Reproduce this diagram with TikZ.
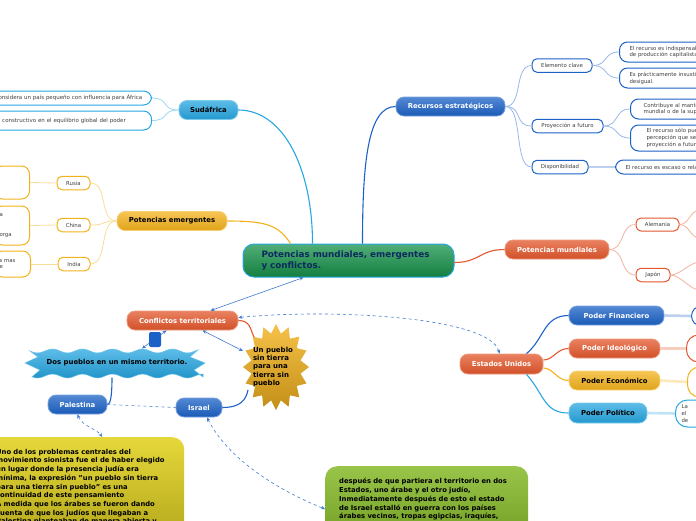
\documentclass[tikz,border=0pt]{standalone}
\usepackage{fontspec}
\setmainfont{DejaVu Sans}
\usetikzlibrary{arrows.meta,calc}
\definecolor{dblue}{HTML}{1C62C6}
\definecolor{lblue}{HTML}{27A6E0}
\definecolor{rorange}{HTML}{E3572C}
\definecolor{gold}{HTML}{F3B21C}
\definecolor{mgreen}{HTML}{17944B}
\definecolor{navy}{HTML}{0D2A5E}
\definecolor{lemon}{HTML}{E2D324}
\definecolor{olive}{HTML}{86BA2A}
\tikzset{
  core/.style={rounded corners=11pt, draw=lblue, line width=1pt, top color=mgreen!75!white, bottom color=mgreen!85!black, minimum width=211pt, minimum height=33pt, text width=174pt, align=left, inner sep=0pt, text=navy, font=\fontsize{8.8}{11.5}\selectfont\bfseries},
  branch/.style={rounded corners=8pt, draw=#1!60!white, line width=0.8pt, top color=#1!75!white, bottom color=#1!92!black, minimum height=19pt, inner sep=0pt, text=white, font=\fontsize{6.85}{8}\selectfont\bfseries},
  sub/.style={rounded corners=5pt, draw=#1, line width=1pt, fill=white, minimum height=13.5pt, inner sep=0pt, text=black!75, font=\fontsize{5.4}{6.8}\selectfont},
  leaf/.style={sub=#1, rounded corners=8pt, align=left, inner xsep=10pt},
  twig/.style={draw=#1!45!white, line width=0.8pt},
  stem/.style={draw=#1!30!white, line width=2.6pt},
  link/.style={draw=#1, line width=1.1pt},
  dual/.style={draw=dblue!85, line width=0.6pt, <->, >={Stealth[length=4pt,width=3.5pt]}},
  note/.style={rounded corners=12pt, inner ysep=8pt, align=left, text=black, font=\fontsize{6.8}{8.7}\selectfont\bfseries}
}
\begin{document}
\begin{tikzpicture}[x=1pt,y=-1pt]
\useasboundingbox (0,0) rectangle (696,520);

\node[core] (main) at (348.5,260.5) {Potencias mundiales, emergentes\\y conflictos.};

\node[branch=lblue, text=black, minimum width=59pt] (sud) at (208.5,110) {Sudáfrica};
\node[leaf=lblue, anchor=east, minimum height=14pt, text width=150pt, inner xsep=6pt, font=\fontsize{5.5}{6.8}\selectfont] (sudA) at (152,98) {considera un país pequeño con influencia para África};
\node[leaf=lblue, anchor=east, minimum height=19pt, text width=150pt, inner xsep=6pt, font=\fontsize{5.5}{6.8}\selectfont] (sudB) at (152,120.5) {el constructivo en el equilibrio global del poder};
\draw[link=lblue] (sud.east) .. controls +(45,0) and +(0,-75) .. ([xshift=-36pt]main.north);
\draw[twig=lblue] (sud.west) .. controls +(-18,0) and +(18,0) .. (sudA.east);
\draw[twig=lblue] (sud.west) .. controls +(-18,0) and +(18,0) .. (sudB.east);

\node[branch=gold, text=black, minimum width=110pt] (emerg) at (172,221) {Potencias emergentes};
\node[sub=gold, minimum width=33pt] (rusia) at (73.5,183) {Rusia};
\node[sub=gold, minimum width=33pt] (china) at (73.5,225) {China};
\node[sub=gold, minimum width=32pt] (india) at (74,264) {India};
\node[leaf=gold, anchor=east, minimum height=33pt, text width=25pt, inner xsep=5pt] (rusiaL) at (30,182.5) {};
\node[leaf=gold, anchor=east, minimum height=39pt, text width=25pt, inner xsep=5pt] (chinaL) at (30,225.5) {a\\[13.5pt]orga};
\node[leaf=gold, anchor=east, minimum height=26pt, text width=26pt, inner xsep=5pt] (indiaL) at (31,264) {s mas\\e};
\draw[link=gold] (emerg.east) .. controls +(40,0) and +(-12,-18) .. ([xshift=-58pt]main.north);
\foreach \c in {rusia,china,india}{
  \draw[twig=gold] (emerg.west) .. controls +(-18,0) and +(18,0) .. (\c.east);
  \draw[twig=gold] (\c.west) -- (\c L.east);
}

\node[branch=dblue, minimum width=109pt] (recur) at (450.5,106.5) {Recursos estratégicos};
\node[sub=dblue, minimum width=60pt] (elem) at (562,65.5) {Elemento clave};
\node[sub=dblue, minimum width=71pt] (proy) at (567.5,126) {Proyección a futuro};
\node[sub=dblue, minimum width=56pt] (disp) at (560,167) {Disponibilidad};
\node[leaf=dblue, anchor=west, minimum height=20pt, text width=110pt] (elemA) at (619,52) {El recurso es indispensable\\de producción capitalista};
\node[leaf=dblue, anchor=west, minimum height=20pt, text width=110pt] (elemB) at (619,78) {Es prácticamente insustituible\\desigual.};
\node[leaf=dblue, anchor=west, minimum height=20pt, text width=110pt, inner xsep=13pt] (proyA) at (630,109) {Contribuye al mantenimiento\\mundial o de la superpotencia};
\node[leaf=dblue, anchor=west, minimum height=26pt, text width=110pt, inner xsep=16pt] (proyB) at (630,138) {El recurso sólo puede\\percepción que se tiene\\proyección a futuro};
\node[leaf=dblue, anchor=west, minimum height=14pt, text width=110pt] (dispA) at (615,167) {El recurso es escaso o relativo};
\draw[link=dblue] (recur.west) .. controls +(-28,0) and +(0,-80) .. ([xshift=14pt]main.north);
\foreach \c in {elem,proy,disp}
  \draw[twig=dblue] (recur.east) .. controls +(18,0) and +(-18,0) .. (\c.west);
\draw[twig=dblue] (elem.east) .. controls +(16,0) and +(-16,0) .. (elemA.west);
\draw[twig=dblue] (elem.east) .. controls +(16,0) and +(-16,0) .. (elemB.west);
\draw[twig=dblue] (proy.east) .. controls +(16,0) and +(-16,0) .. (proyA.west);
\draw[twig=dblue] (proy.east) .. controls +(16,0) and +(-16,0) .. (proyB.west);
\draw[stem=dblue] (disp.east) -- (dispA.west);

\node[branch=rorange, minimum width=104pt] (pmund) at (557,249.5) {Potencias mundiales};
\node[sub=rorange, minimum width=43pt, minimum height=13pt] (alem) at (657.5,224.5) {Alemania};
\node[sub=rorange, minimum width=34pt] (japon) at (653,275) {Japón};
\coordinate (alemU) at (700,210);
\coordinate (alemD) at (700,238);
\coordinate (japonU) at (700,262);
\coordinate (japonD) at (700,290);
\draw[link=rorange] ([yshift=-2pt]main.east) .. controls +(25,0) and +(-25,0) .. (pmund.west);
\foreach \c in {alem,japon}{
  \draw[twig=rorange] (pmund.east) .. controls +(16,0) and +(-16,0) .. (\c.west);
  \draw[twig=rorange] (\c.east) .. controls +(10,0) and +(-10,0) .. (\c U);
  \draw[twig=rorange] (\c.east) .. controls +(10,0) and +(-10,0) .. (\c D);
}

\node[branch=rorange, minimum width=83pt, minimum height=20pt] (eu) at (501.5,364) {Estados Unidos};
\node[branch=dblue, minimum width=95pt] (pfin) at (616.5,315.5) {Poder Financiero};
\node[branch=rorange, minimum width=91pt] (pide) at (614.5,348.5) {Poder Ideológico};
\node[branch=gold, text=black, minimum width=91pt] (peco) at (614.5,380.5) {Poder Económico};
\node[branch=lblue, text=black, minimum width=78pt, minimum height=20pt] (ppol) at (608,413) {Poder Político};
\node[leaf=dblue, anchor=west, minimum width=50pt, minimum height=20pt, rounded corners=10pt] (pfinL) at (691,316) {};
\node[leaf=rorange, anchor=west, minimum width=50pt, minimum height=27pt, rounded corners=12pt] (pideL) at (686,348.5) {};
\node[leaf=gold, anchor=west, minimum width=50pt, minimum height=30pt, rounded corners=12pt] (pecoL) at (687,382) {};
\node[leaf=lblue, anchor=west, minimum height=27pt, text width=40pt, inner xsep=6pt, font=\fontsize{5.4}{7}\selectfont, rounded corners=12pt] (ppolL) at (675,413.5) {La\\el\\de};
\draw[link=dblue] ([xshift=25pt]eu.north) .. controls +(18,-15) and +(-25,0) .. (pfin.west);
\draw[link=rorange] ([yshift=4pt]eu.east) .. controls +(10,0) and +(-12,0) .. (pide.west);
\draw[link=gold] ([yshift=-4pt]eu.east) .. controls +(10,0) and +(-12,0) .. (peco.west);
\draw[link=lblue] ([xshift=25pt]eu.south) .. controls +(18,20) and +(-25,0) .. (ppol.west);
\draw[stem=dblue] (pfin.east) -- (pfinL.west);
\draw[stem=rorange] (pide.east) -- (pideL.west);
\draw[stem=gold] (peco.east) -- (pecoL.west);
\draw[stem=lblue] (ppol.east) -- (ppolL.west);

\node[branch=rorange, minimum width=111pt] (conf) at (182.5,320.5) {Conflictos territoriales};
\shade[top color=lblue!75!white, bottom color=lblue!90!black, draw=lblue!70!white, line width=0.5pt]
  plot[domain=30:198, samples=60] (\x,{351+2*sin(12*\x)}) -- (190,357) -- (205,363) -- (194,370) -- (203,377)
  -- plot[domain=203:32, samples=60] (\x,{376+2*sin(12*\x)}) -- (40,370) -- (25,363) -- (38,357) -- cycle;
\node[font=\fontsize{6.9}{8}\selectfont\bfseries] (dosp) at (117,362.5) {Dos pueblos en un mismo territorio.};
\shade[top color=gold!80!white, bottom color=gold!80!black]
  plot[domain=0:31, samples=32] ({276+ifthenelse(mod(round(\x),2)==0,33,25)*cos(\x*11.25)}, {367+ifthenelse(mod(round(\x),2)==0,43,34)*sin(\x*11.25)}) -- cycle;
\node[text width=42pt, align=left, inner sep=0pt, font=\fontsize{7}{8.3}\selectfont\bfseries] (star) at (274,367) {Un pueblo\\sin tierra\\para una\\tierra sin\\pueblo};
\node[branch=dblue, minimum width=46pt] (israel) at (199,407.5) {Israel};
\node[branch=dblue, minimum width=59pt] (palest) at (77.5,404.5) {Palestina};
\node[note, anchor=north west, top color=lemon!90!white, bottom color=lemon!80!black, text width=177pt, inner xsep=11pt, minimum height=100pt] (ybox) at (-15,437) {Uno de los problemas centrales del\\movimiento sionista fue el de haber elegido\\un lugar donde la presencia judía era\\mínima, la expresión "un pueblo sin tierra\\para una tierra sin pueblo" es una\\continuidad de este pensamiento\\A medida que los árabes se fueron dando\\cuenta de que los judíos que llegaban a\\Palestina planteaban de manera abierta y};
\node[note, anchor=north west, top color=olive!85!white, bottom color=olive!85!black, text width=175pt, inner xsep=14pt, minimum height=75pt] (gbox) at (325,466) {después de que partiera el territorio en dos\\Estados, uno árabe y el otro judío,\\Inmediatamente después de esto el estado\\de Israel estalló en guerra con los países\\árabes vecinos, tropas egipcias, iraquíes,\\libanesas, sirias y jordanas invadieron};

\draw[dual] ([xshift=-45pt]main.south) -- ([xshift=28pt]conf.north);
\draw[dual, dashed] ([yshift=3pt]conf.east) .. controls (340,308) and (490,318) .. ([xshift=-2pt]eu.north);
\draw[link=rorange] (conf.east) .. controls +(12,0) and +(-4,-8) .. ([shift={(-20pt,30pt)}]star.center);
\draw[dual] ([xshift=20pt]conf.south) -- ([shift={(-31pt,16pt)}]star.center);
\draw[dual] ([xshift=-16pt]conf.south) -- ([shift={(25pt,14pt)}]dosp.center);
\node[fill=dblue, rounded corners=2pt, minimum width=12pt, minimum height=15pt, inner sep=0pt] (grip) at (155,339.5) {};
\draw[link=dblue] (israel.east) .. controls +(18,0) and +(-2,10) .. ([shift={(-26pt,-23pt)}]star.center);
\draw[link=dblue] (palest.east) .. controls +(4,0) and +(0,12) .. ([shift={(-5pt,-15pt)}]dosp.center);
\draw[draw=dblue!80, line width=0.6pt, dashed] (palest.east) -- (israel.west);
\draw[dual, dashed] (palest.south) .. controls +(5,12) and +(-5,-8) .. ([xshift=117pt]ybox.north west);
\draw[dual, dashed] ([xshift=8pt]israel.south) .. controls +(20,40) and +(-50,-20) .. ([yshift=-43pt]gbox.north west);
\end{tikzpicture}
\end{document}
